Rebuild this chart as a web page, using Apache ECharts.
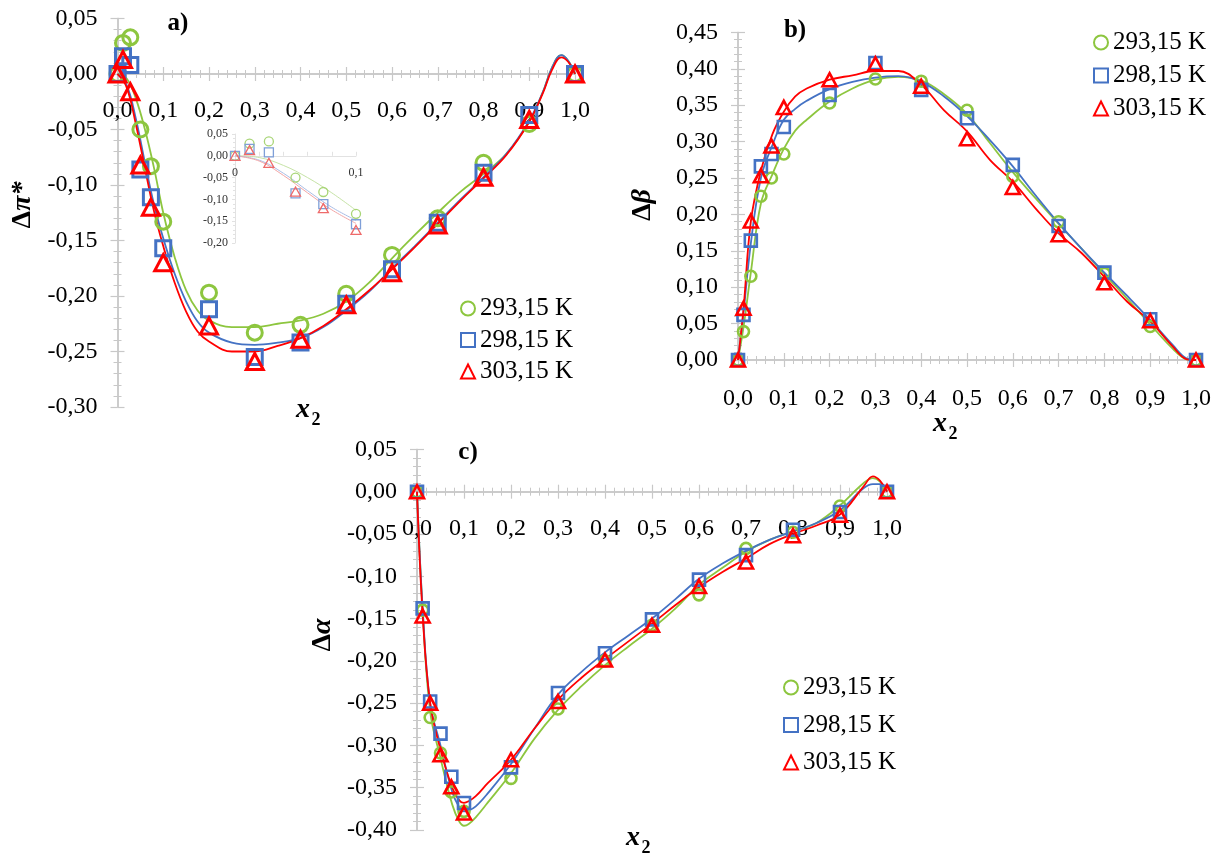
<!DOCTYPE html>
<html><head><meta charset="utf-8">
<script src="https://cdn.jsdelivr.net/npm/echarts@6/dist/echarts.min.js"></script>
<style>html,body{margin:0;padding:0;background:#fff}#c{width:1220px;height:855px}</style>
</head><body><div id="c"></div>
<script>
// ---- data ----
const names = ['293,15 K', '298,15 K', '303,15 K'];
const x2 = [0, 0.012, 0.028, 0.05, 0.073, 0.1, 0.2, 0.3, 0.4, 0.5, 0.6, 0.7, 0.8, 0.9, 1.0];

// a) Δπ*
const piG = [0, 0.028, 0.033, -0.050, -0.083, -0.133, -0.197, -0.233, -0.226, -0.198, -0.163, -0.130, -0.080, -0.045, 0];
const piB = [0, 0.016, 0.008, -0.086, -0.111, -0.157, -0.212, -0.255, -0.242, -0.207, -0.176, -0.134, -0.089, -0.037, 0];
const piR = [0, 0.013, -0.016, -0.082, -0.120, -0.170, -0.227, -0.259, -0.239, -0.208, -0.179, -0.136, -0.093, -0.041, 0];
const fitXA = [0, 0.02, 0.04, 0.06, 0.08, 0.1, 0.125, 0.15, 0.175, 0.2, 0.25, 0.3, 0.35, 0.4, 0.45, 0.5, 0.55, 0.6, 0.65, 0.7, 0.75, 0.8, 0.85, 0.9, 0.93, 0.95, 0.97, 0.985, 1.0];
const fitAG = [0, -0.004, -0.022, -0.05, -0.085, -0.125, -0.165, -0.195, -0.213, -0.222, -0.228, -0.228, -0.225, -0.222, -0.216, -0.205, -0.188, -0.166, -0.145, -0.125, -0.106, -0.09, -0.072, -0.043, -0.016, 0.006, 0.017, 0.012, 0];
const fitAB = [0, -0.01, -0.04, -0.08, -0.118, -0.148, -0.18, -0.205, -0.223, -0.233, -0.242, -0.244, -0.242, -0.238, -0.228, -0.213, -0.196, -0.175, -0.155, -0.134, -0.113, -0.093, -0.072, -0.042, -0.016, 0.006, 0.017, 0.012, 0];
const fitAR = [0, -0.012, -0.045, -0.085, -0.124, -0.155, -0.188, -0.214, -0.232, -0.241, -0.25, -0.25, -0.245, -0.238, -0.227, -0.212, -0.195, -0.176, -0.156, -0.135, -0.114, -0.094, -0.073, -0.043, -0.017, 0.004, 0.015, 0.011, 0];

// b) Δβ
const beG = [0, 0.039, 0.115, 0.225, 0.250, 0.283, 0.353, 0.386, 0.383, 0.343, 0.252, 0.190, 0.119, 0.046, 0];
const beB = [0, 0.062, 0.164, 0.266, 0.283, 0.320, 0.364, 0.408, 0.371, 0.332, 0.268, 0.184, 0.120, 0.056, 0];
const beR = [0, 0.071, 0.191, 0.253, 0.294, 0.347, 0.385, 0.407, 0.376, 0.304, 0.237, 0.172, 0.106, 0.054, 0];
const fitXB = [0, 0.012, 0.028, 0.05, 0.075, 0.1, 0.125, 0.15, 0.2, 0.25, 0.3, 0.35, 0.4, 0.45, 0.5, 0.55, 0.6, 0.65, 0.7, 0.75, 0.8, 0.85, 0.9, 0.95, 0.98, 1.0];
const fitBG = [0, 0.045, 0.12, 0.215, 0.255, 0.29, 0.315, 0.33, 0.355, 0.373, 0.385, 0.389, 0.384, 0.365, 0.338, 0.298, 0.258, 0.222, 0.187, 0.153, 0.118, 0.084, 0.049, 0.015, 0.001, 0];
const fitBB = [0, 0.065, 0.16, 0.25, 0.295, 0.33, 0.345, 0.356, 0.372, 0.382, 0.388, 0.39, 0.382, 0.362, 0.335, 0.302, 0.266, 0.226, 0.188, 0.153, 0.12, 0.088, 0.055, 0.02, 0.002, 0];
const fitBR = [0, 0.07, 0.19, 0.26, 0.31, 0.341, 0.362, 0.373, 0.385, 0.391, 0.397, 0.397, 0.378, 0.343, 0.314, 0.275, 0.245, 0.208, 0.174, 0.147, 0.114, 0.08, 0.053, 0.018, 0.001, 0];

// c) Δα
const alG = [0, -0.140, -0.267, -0.309, -0.355, -0.378, -0.339, -0.257, -0.200, -0.158, -0.122, -0.067, -0.048, -0.017, 0];
const alB = [0, -0.138, -0.248, -0.286, -0.337, -0.368, -0.326, -0.238, -0.191, -0.151, -0.104, -0.075, -0.045, -0.024, 0];
const alR = [0, -0.147, -0.250, -0.311, -0.349, -0.380, -0.317, -0.248, -0.199, -0.158, -0.112, -0.083, -0.052, -0.028, 0];
const fitXC = [0, 0.012, 0.028, 0.05, 0.075, 0.09, 0.1, 0.11, 0.125, 0.15, 0.2, 0.25, 0.3, 0.35, 0.4, 0.45, 0.5, 0.55, 0.6, 0.65, 0.7, 0.75, 0.8, 0.85, 0.9, 0.95, 0.97, 0.985, 1.0];
const fitCG = [0, -0.14, -0.26, -0.315, -0.37, -0.39, -0.395, -0.393, -0.385, -0.368, -0.333, -0.292, -0.258, -0.23, -0.205, -0.183, -0.162, -0.138, -0.11, -0.09, -0.071, -0.057, -0.047, -0.037, -0.016, 0.01, 0.016, 0.012, 0];
const fitCB = [0, -0.138, -0.25, -0.3, -0.355, -0.373, -0.378, -0.377, -0.372, -0.357, -0.322, -0.28, -0.24, -0.213, -0.19, -0.17, -0.15, -0.127, -0.103, -0.085, -0.07, -0.057, -0.047, -0.037, -0.022, 0.004, 0.009, 0.009, 0];
const fitCR = [0, -0.145, -0.25, -0.305, -0.35, -0.365, -0.368, -0.366, -0.36, -0.345, -0.317, -0.28, -0.246, -0.22, -0.198, -0.177, -0.156, -0.134, -0.113, -0.095, -0.079, -0.062, -0.05, -0.04, -0.027, 0.006, 0.018, 0.013, 0];

// ---- styling ----
const FONT = 'Liberation Serif';
const AX = '#c8c8c8';
const COL = ['#8DC63F', '#4472C4', '#FF0000'];
const SYM = ['circle', 'rect', 'triangle'];
const fmt2 = v => v.toFixed(2).replace('.', ',');
const fmt1 = v => v.toFixed(1).replace('.', ',');

const grids = [
  {left: 117.5, top: 18.5, width: 457.5, height: 388.5},
  {left: 738, top: 32.4, width: 458, height: 327.6},
  {left: 417, top: 449.4, width: 470, height: 380.6},
  {left: 235, top: 134, width: 121, height: 109}
].map(g => Object.assign({outerBoundsMode: 'none', containLabel: false}, g));
const yRange = [[-0.30, 0.05], [0, 0.45], [-0.40, 0.05], [-0.20, 0.05]];
// distance (px) from grid bottom up to the y = 0 line, derived from the grid and its y range
const zeroOff = gi => -grids[gi].height * (0 - yRange[gi][0]) / (yRange[gi][1] - yRange[gi][0]);

const xAxis = [], yAxis = [];
function addAxes(list, gi, pos, o) {
  const base = {
    type: 'value', gridIndex: gi, min: o.min, max: o.max, interval: o.interval, position: pos,
    offset: o.offset || 0,
    splitLine: {show: false}, minorSplitLine: {show: false},
    axisLine: {show: true, onZero: false, lineStyle: {color: AX, width: 1.5}},
    minorTick: {show: true, splitNumber: 5, length: 4, lineStyle: {color: AX, width: 1}}
  };
  list.push(Object.assign({}, base, {
    axisTick: {show: true, inside: false, length: 7, lineStyle: {color: AX, width: 1.2}},
    axisLabel: {show: true, margin: o.margin, fontFamily: FONT, fontSize: 24, color: '#000', formatter: o.fmt}
  }));
  list.push(Object.assign({}, base, {
    axisTick: {show: true, inside: true, length: 7, lineStyle: {color: AX, width: 1.2}},
    axisLabel: {show: false}
  }));
}
// grid 0 (a)
addAxes(xAxis, 0, 'bottom', {min: 0, max: 1, interval: 0.1, margin: 25, fmt: fmt1, offset: zeroOff(0)});
addAxes(yAxis, 0, 'left', {min: yRange[0][0], max: yRange[0][1], interval: 0.05, margin: 20, fmt: fmt2});
// grid 1 (b)
addAxes(xAxis, 1, 'bottom', {min: 0, max: 1, interval: 0.1, margin: 27, fmt: fmt1, offset: 0});
addAxes(yAxis, 1, 'left', {min: yRange[1][0], max: yRange[1][1], interval: 0.05, margin: 20, fmt: fmt2});
// grid 2 (c)
addAxes(xAxis, 2, 'bottom', {min: 0, max: 1, interval: 0.1, margin: 25, fmt: fmt1, offset: zeroOff(2)});
addAxes(yAxis, 2, 'left', {min: yRange[2][0], max: yRange[2][1], interval: 0.05, margin: 20, fmt: fmt2});
// inset (grid 3)
const IAX = '#e2e2e2';
xAxis.push({
  type: 'value', gridIndex: 3, min: 0, max: 0.1, interval: 0.02, position: 'bottom', offset: zeroOff(3),
  splitLine: {show: false},
  axisLine: {show: true, onZero: false, lineStyle: {color: IAX, width: 1}},
  axisTick: {show: true, length: 4, inside: true, lineStyle: {color: IAX}},
  axisLabel: {margin: 11, fontFamily: FONT, fontSize: 12, color: '#333',
    formatter: v => (v === 0 ? '0' : (Math.abs(v - 0.1) < 1e-9 ? '0,1' : ''))}
});
yAxis.push({
  type: 'value', gridIndex: 3, min: yRange[3][0], max: yRange[3][1], interval: 0.05, position: 'left',
  splitLine: {show: false},
  axisLine: {show: true, onZero: false, lineStyle: {color: IAX, width: 1}},
  axisTick: {show: true, length: 3, lineStyle: {color: IAX}},
  minorTick: {show: true, splitNumber: 5, length: 2, lineStyle: {color: IAX}},
  axisLabel: {margin: 7, fontFamily: FONT, fontSize: 12, color: '#333', formatter: fmt2}
});

const series = [];
function pts(xs, ys) { return xs.map((x, i) => [x, ys[i]]); }
function addPanel(axIdx, markerSets, fitX, fitSets, sizes, bw, lw, colors) {
  fitSets.forEach((f, k) => {
    series.push({
      type: 'line', name: 'fit' + axIdx + k, xAxisIndex: axIdx, yAxisIndex: axIdx,
      data: pts(fitX, f), smooth: 0.4, showSymbol: false, symbol: 'none', clip: false, z: 2,
      lineStyle: {color: colors.line[k], width: lw}, silent: true
    });
  });
  markerSets.forEach((m, k) => {
    series.push({
      type: 'scatter', name: names[k], xAxisIndex: axIdx, yAxisIndex: axIdx,
      data: pts(x2.slice(0, m.length), m), symbol: SYM[k], symbolSize: sizes[k], clip: false, z: 3 + k,
      itemStyle: {color: 'rgba(255,255,255,0)', borderColor: colors.mark[k], borderWidth: bw, opacity: 1}
    });
  });
}
const mainCols = {line: COL, mark: COL};
addPanel(0, [piG, piB, piR], fitXA, [fitAG, fitAB, fitAR], [15, 15, [17, 16]], 3, 1.8, mainCols);
addPanel(2, [beG, beB, beR], fitXB, [fitBG, fitBB, fitBR], [11, 12, [14, 13]], 2.6, 1.8, mainCols);
addPanel(4, [alG, alB, alR], fitXC, [fitCG, fitCB, fitCR], [11, 12, [14, 13]], 2.6, 1.8, mainCols);
// inset: first points only (x2 <= 0.1)
const nI = 6, nF = fitXA.filter(x => x <= 0.1).length;
addPanel(6, [piG.slice(0, nI), piB.slice(0, nI), piR.slice(0, nI)], fitXA.slice(0, nF),
  [fitAG.slice(0, nF), fitAB.slice(0, nF), fitAR.slice(0, nF)], [9, 9, [10, 9]], 1.3, 1,
  {line: ['#c6e3a6', '#a9bde6', '#f3a5a5'], mark: ['#a8d576', '#7f9fd8', '#ee6a6a']});

function legendAt(left, top, gap) {
  return {
    orient: 'vertical', left: left, top: top, padding: 0, itemGap: gap, itemWidth: 14, itemHeight: 14,
    selectedMode: false,
    textStyle: {fontFamily: FONT, fontSize: 25, color: '#000', lineHeight: 25},
    data: names.map((n, k) => ({name: n, icon: SYM[k]}))
  };
}

function txt(x, y, text, size, opts) {
  return Object.assign({
    type: 'text', x: x, y: y, silent: true,
    style: Object.assign({text: text, fontFamily: FONT, fontSize: size, fontWeight: 'bold', fill: '#000',
      textAlign: 'center', textVerticalAlign: 'middle'}, (opts && opts.style) || {})
  }, (opts && opts.el) || {});
}
const rot = Math.PI / 2;
const richD = {
  d: {fontFamily: FONT, fontSize: 28, fontWeight: 'bold'},
  p: {fontFamily: FONT, fontSize: 28, fontWeight: 'bold', fontStyle: 'italic'}
};
const graphic = [
  txt(178, 24, 'a)', 25), txt(795, 31, 'b)', 25), txt(468, 453, 'c)', 25),
  txt(23, 205, '{d|Δ}{p|π*}', 28, {el: {rotation: rot}, style: {rich: richD}}),
  txt(643, 205, '{d|Δ}{p|β}', 28, {el: {rotation: rot}, style: {rich: richD}}),
  txt(323, 635, '{d|Δ}{p|α}', 28, {el: {rotation: rot}, style: {rich: richD}}),
  txt(303, 410, 'x', 28, {style: {fontStyle: 'italic'}}), txt(316, 420, '2', 18),
  txt(940, 424, 'x', 28, {style: {fontStyle: 'italic'}}), txt(953, 434, '2', 18),
  txt(633, 838, 'x', 28, {style: {fontStyle: 'italic'}}), txt(646, 848, '2', 18)
];

const chart = echarts.init(document.getElementById('c'), null, {renderer: 'canvas'});
chart.setOption({
  backgroundColor: '#fff',
  animation: false,
  grid: grids,
  xAxis: xAxis,
  yAxis: yAxis,
  legend: [legendAt(460, 296, 6.5), legendAt(1093, 30, 8), legendAt(783, 675, 12.5)],
  series: series,
  graphic: graphic
});
</script>
</body></html>
